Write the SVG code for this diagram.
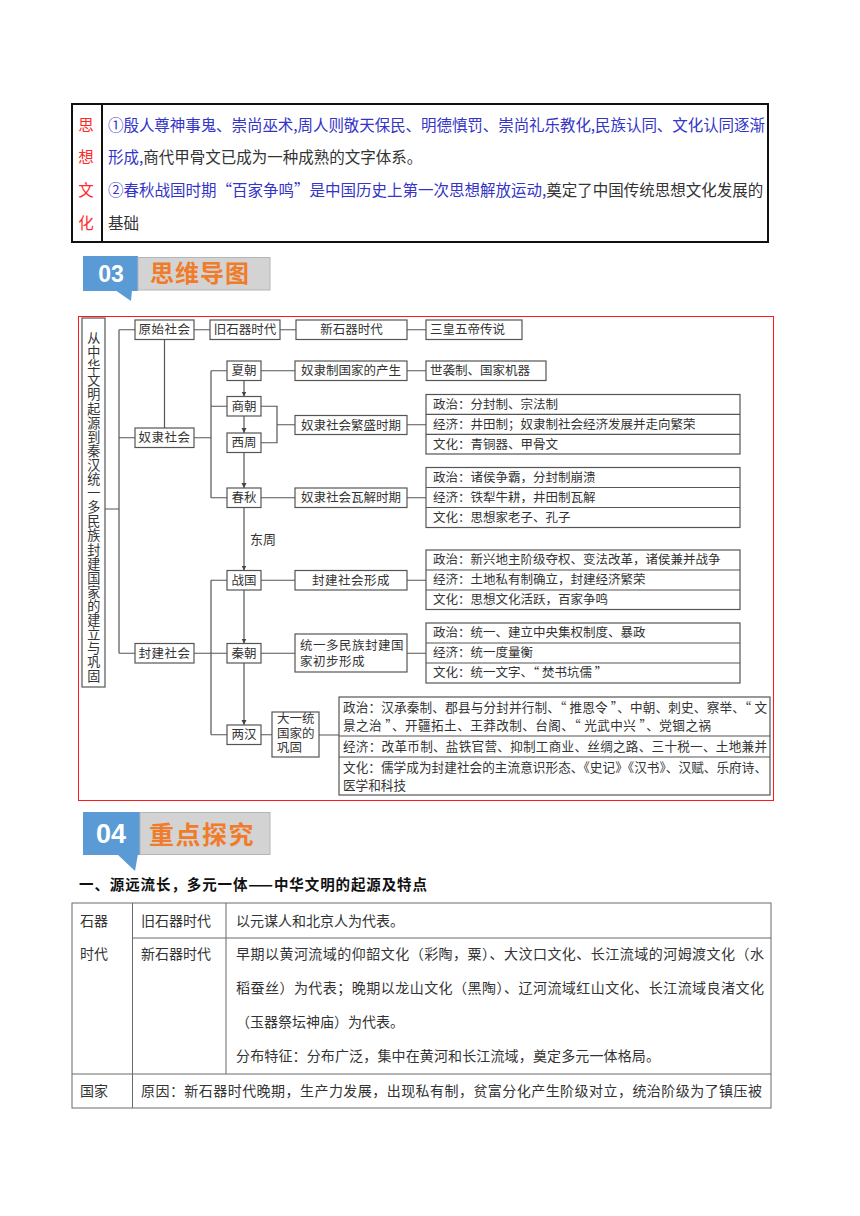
<svg xmlns="http://www.w3.org/2000/svg" width="860" height="1216" viewBox="0 0 860 1216">
<style>
text{font-family:"Noto Sans CJK SC","Liberation Sans",sans-serif;}
.blue{fill:#3434c8}
.red{fill:#ff2a2a}
.blk{fill:#333}
.box{fill:#fff;stroke:#555;stroke-width:1.2}
.ln{fill:none;stroke:#555;stroke-width:1.2}
.t{font-size:12.5px;fill:#333}
.tc{font-size:12.5px;fill:#333;text-anchor:middle}
.ml{font-family:"Liberation Sans","Noto Sans CJK SC",sans-serif;font-size:12.5px;fill:#333}
.t5{font-size:12.6px;fill:#333}
.bt{font-size:14px;fill:#333}
.tl{stroke:#6a6a6a;stroke-width:1;fill:none}
.hdnum{font-family:"Liberation Sans",sans-serif;font-weight:bold;fill:#fff;text-anchor:middle}
.hdtxt{font-weight:bold;fill:#f07c2a}
.vt{writing-mode:vertical-rl;font-size:13.1px;letter-spacing:1px;fill:#333}
</style>
<defs>
<marker id="ar" markerWidth="6" markerHeight="6" refX="5" refY="3" orient="auto" markerUnits="userSpaceOnUse">
<path d="M0,0.5 L5,3 L0,5.5 z" fill="#444"/>
</marker>
</defs>
<rect width="860" height="1216" fill="#fff"/>

<!-- top table -->
<g id="top-table">
<rect x="72" y="104" width="696" height="138" fill="none" stroke="#111" stroke-width="2"/>
<line x1="102" y1="104" x2="102" y2="242" stroke="#111" stroke-width="2"/>
<g font-size="15.5" class="red" text-anchor="middle">
<text x="86" y="130.5" class="red">思</text>
<text x="86" y="163" class="red">想</text>
<text x="86" y="196" class="red">文</text>
<text x="86" y="228.5" class="red">化</text>
</g>
<text x="108" y="130.5" font-size="15.5" class="blue" textLength="657" lengthAdjust="spacing">①殷人尊神事鬼、崇尚巫术,周人则敬天保民、明德慎罚、崇尚礼乐教化,民族认同、文化认同逐渐</text>
<text x="108" y="163" font-size="15.5"><tspan class="blue">形成,</tspan><tspan class="blk">商代甲骨文已成为一种成熟的文字体系。</tspan></text>
<text x="108" y="196" font-size="15.5"><tspan class="blue">②春秋战国时期“百家争鸣”是中国历史上第一次思想解放运动,</tspan><tspan class="blk">奠定了中国传统思想文化发展的</tspan></text>
<text x="108" y="228.5" font-size="15.5" class="blk">基础</text>
</g>

<!-- header 03 -->
<g id="header-03">
<polygon points="115,290 131,301 132,290" fill="#5b9bd5"/>
<rect x="83" y="256" width="55" height="35" fill="#5b9bd5"/>
<rect x="138" y="257.5" width="132" height="32.5" fill="#d3d3d3" stroke="#b5b5b5"/>
<text x="111" y="282" font-size="23" class="hdnum">03</text>
<text x="150" y="282" font-size="24" class="hdtxt" letter-spacing="1">思维导图</text>
</g>

<!-- mind map frame -->
<rect x="78.5" y="316.5" width="695" height="484" fill="none" stroke="#ff1a1a" stroke-width="1"/>

<g id="connectors">
<path class="ln" d="M105,509 H119 M119,329.75 V653.25 M119,329.75 H135 M119,437.75 H135 M119,653.25 H135"/>
<path class="ln" d="M194,329.75 H210 M280,329.75 H296 M407,329.75 H426 M164.5,339.5 V428"/>
<path class="ln" d="M194,437.75 H211 M211,370.75 V497.75 M211,370.75 H227 M211,406.25 H227 M211,497.75 H227"/>
<path class="ln" d="M211,580.25 V734.75 M211,580.25 H227 M211,734.75 H227 M194,653.25 H227"/>
<path class="ln" d="M261,370.75 H295 M407,370.75 H426"/>
<path class="ln" d="M261,406.25 H277 V442.75 H261 M277,424.75 H295 M407,424.75 H426"/>
<path class="ln" d="M261,497.75 H295 M407,497.75 H426"/>
<path class="ln" d="M261,580.25 H295 M407,580.25 H426"/>
<path class="ln" d="M261,653.25 H295 M407,653.25 H426"/>
<path class="ln" d="M261,734.75 H272 M319,735 H339"/>
<line class="ln" x1="244" y1="380.5" x2="244" y2="396.5" marker-end="url(#ar)"/>
<line class="ln" x1="244" y1="416" x2="244" y2="433" marker-end="url(#ar)"/>
<line class="ln" x1="244" y1="452.5" x2="244" y2="488" marker-end="url(#ar)"/>
<line class="ln" x1="244" y1="507.5" x2="244" y2="570.5" marker-end="url(#ar)"/>
<line class="ln" x1="244" y1="590" x2="244" y2="643.5" marker-end="url(#ar)"/>
<line class="ln" x1="244" y1="663" x2="244" y2="725" marker-end="url(#ar)"/>
<text x="250" y="543.5" font-size="13" fill="#333">东周</text>
</g>

<g id="n-title">
<rect class="box" x="82" y="318" width="23" height="369"/>
<text class="vt" x="93.7" y="331.5">从中华文明起源到秦汉统一多民族封建国家的建立与巩固</text>
</g>

<g id="n-yuanshi"><rect class="box" x="135" y="320" width="59" height="19.5"/><text class="tc" x="164.5" y="334" letter-spacing="0.5">原始社会</text></g>
<g id="n-jiushiqi"><rect class="box" x="210" y="320" width="70" height="19.5"/><text class="tc" x="245" y="334">旧石器时代</text></g>
<g id="n-xinshiqi"><rect class="box" x="296" y="320" width="111" height="19.5"/><text class="tc" x="351.5" y="334">新石器时代</text></g>
<g id="n-sanhuang"><rect class="box" x="426" y="320" width="96" height="19.5"/><text class="t" x="430" y="334">三皇五帝传说</text></g>

<g id="n-nuli"><rect class="box" x="135" y="428" width="59" height="19.5"/><text class="tc" x="164.5" y="442.2" letter-spacing="0.5">奴隶社会</text></g>
<g id="n-xia"><rect class="box" x="227" y="361" width="34" height="19.5"/><text class="tc" x="244" y="375">夏朝</text></g>
<g id="n-shang"><rect class="box" x="227" y="396.5" width="34" height="19.5"/><text class="tc" x="244" y="410.5">商朝</text></g>
<g id="n-xizhou"><rect class="box" x="227" y="433" width="34" height="19.5"/><text class="tc" x="244" y="447">西周</text></g>
<g id="n-chunqiu"><rect class="box" x="227" y="488" width="34" height="19.5"/><text class="tc" x="244" y="502">春秋</text></g>
<g id="n-zhanguo"><rect class="box" x="227" y="570.5" width="34" height="19.5"/><text class="tc" x="244" y="584.5">战国</text></g>
<g id="n-qin"><rect class="box" x="227" y="643.5" width="34" height="19.5"/><text class="tc" x="244" y="657.5">秦朝</text></g>
<g id="n-lianghan"><rect class="box" x="227" y="725" width="34" height="19.5"/><text class="tc" x="244" y="739">两汉</text></g>
<g id="n-fengjian"><rect class="box" x="135" y="643.5" width="59" height="19.5"/><text class="tc" x="164.5" y="657.5" letter-spacing="0.5">封建社会</text></g>

<g id="n-chansheng"><rect class="box" x="295" y="361" width="112" height="19.5"/><text class="tc" x="351" y="375">奴隶制国家的产生</text></g>
<g id="n-shixi"><rect class="box" x="426" y="361" width="120" height="19.5"/><text class="t" x="430" y="375">世袭制、国家机器</text></g>

<g id="n-fansheng"><rect class="box" x="295" y="415.5" width="112" height="19"/><text class="tc" x="351" y="429.5">奴隶社会繁盛时期</text></g>
<g id="n-tab1"><rect class="box" x="426" y="394.5" width="314" height="59.5"/><path class="ln" d="M426,414.3 H740 M426,434.3 H740"/>
<text class="t" x="433" y="408.8">政治：分封制、宗法制</text>
<text class="t" x="433" y="428.7">经济：井田制；奴隶制社会经济发展并走向繁荣</text>
<text class="t" x="433" y="448.5">文化：青铜器、甲骨文</text></g>

<g id="n-wajie"><rect class="box" x="295" y="488" width="112" height="19.5"/><text class="tc" x="351" y="502">奴隶社会瓦解时期</text></g>
<g id="n-tab2"><rect class="box" x="426" y="467.5" width="314" height="60"/><path class="ln" d="M426,487.5 H740 M426,507.5 H740"/>
<text class="t" x="433" y="481.9">政治：诸侯争霸，分封制崩溃</text>
<text class="t" x="433" y="501.9">经济：铁犁牛耕，井田制瓦解</text>
<text class="t" x="433" y="521.9">文化：思想家老子、孔子</text></g>

<g id="n-xingcheng"><rect class="box" x="295" y="570.5" width="112" height="19.5"/><text class="tc" x="351" y="584.5" letter-spacing="0.5">封建社会形成</text></g>
<g id="n-tab3"><rect class="box" x="426" y="550" width="314" height="59.5"/><path class="ln" d="M426,570 H740 M426,590 H740"/>
<text class="t" x="433" y="564.4">政治：新兴地主阶级夺权、变法改革，诸侯兼并战争</text>
<text class="t" x="433" y="584.4">经济：土地私有制确立，封建经济繁荣</text>
<text class="t" x="433" y="604">文化：思想文化活跃，百家争鸣</text></g>

<g id="n-tongyi"><rect class="box" x="295" y="634" width="112" height="38"/>
<text class="ml" x="300" y="649.5" letter-spacing="0.5">统一多民族封建国</text>
<text class="ml" x="300" y="665.5" letter-spacing="0.5">家初步形成</text></g>
<g id="n-tab4"><rect class="box" x="426" y="623" width="314" height="60"/><path class="ln" d="M426,643 H740 M426,663 H740"/>
<text class="t" x="433" y="637.4">政治：统一、建立中央集权制度、暴政</text>
<text class="t" x="433" y="657.4">经济：统一度量衡</text>
<text class="t" x="433" y="677.4">文化：统一文字、“ 焚书坑儒 ”</text></g>

<g id="n-gonggu"><rect class="box" x="272" y="712" width="47" height="45"/>
<text class="ml" x="277" y="723">大一统</text>
<text class="ml" x="277" y="737.5">国家的</text>
<text class="ml" x="277" y="752">巩固</text></g>
<g id="n-tab5"><rect class="box" x="339" y="697" width="431" height="98"/><path class="ln" d="M339,736 H770 M339,757 H770"/>
<text class="t5" x="343" y="711.5" textLength="424" lengthAdjust="spacing">政治：汉承秦制、郡县与分封并行制、“ 推恩令 ”、中朝、刺史、察举、“ 文</text>
<text class="t5" x="343" y="729.5" textLength="368" lengthAdjust="spacing">景之治 ”、开疆拓土、王莽改制、台阁、“ 光武中兴 ”、党锢之祸</text>
<text class="t5" x="343" y="751" textLength="424" lengthAdjust="spacing">经济：改革币制、盐铁官营、抑制工商业、丝绸之路、三十税一、土地兼并</text>
<text class="t5" x="343" y="772" textLength="424" lengthAdjust="spacing">文化：儒学成为封建社会的主流意识形态、《史记》《汉书》、汉赋、乐府诗、</text>
<text class="t5" x="343" y="790">医学和科技</text></g>

<!-- header 04 -->
<g id="header-04">
<polygon points="117,854 135,871 138,854" fill="#5b9bd5"/>
<rect x="83" y="812" width="57" height="43" fill="#5b9bd5"/>
<rect x="140" y="812.5" width="130" height="42" fill="#d3d3d3" stroke="#b5b5b5"/>
<text x="111" y="843" font-size="27" class="hdnum">04</text>
<text x="149" y="844" font-size="25" class="hdtxt" letter-spacing="1.5">重点探究</text>
</g>

<text x="79" y="890" font-size="14.5" font-weight="bold" fill="#111" textLength="348" lengthAdjust="spacing">一、源远流长，多元一体——中华文明的起源及特点</text>

<!-- bottom table -->
<g id="bottom-table">
<rect class="tl" x="72" y="903" width="699" height="205"/>
<line class="tl" x1="132.5" y1="903" x2="132.5" y2="1108"/>
<line class="tl" x1="226" y1="903" x2="226" y2="1074" stroke-width="1.3"/>
<line class="tl" x1="132.5" y1="938" x2="771" y2="938"/>
<line class="tl" x1="72" y1="1074" x2="771" y2="1074"/>
<text class="bt" x="80" y="926">石器</text>
<text class="bt" x="80" y="959">时代</text>
<text class="bt" x="141" y="926">旧石器时代</text>
<text class="bt" x="236" y="926">以元谋人和北京人为代表。</text>
<text class="bt" x="141" y="959">新石器时代</text>
<text class="bt" x="236" y="959" textLength="528" lengthAdjust="spacing">早期以黄河流域的仰韶文化（彩陶，粟）、大汶口文化、长江流域的河姆渡文化（水</text>
<text class="bt" x="236" y="993" textLength="528" lengthAdjust="spacing">稻蚕丝）为代表；晚期以龙山文化（黑陶）、辽河流域红山文化、长江流域良渚文化</text>
<text class="bt" x="236" y="1027">（玉器祭坛神庙）为代表。</text>
<text class="bt" x="236" y="1061" textLength="424" lengthAdjust="spacing">分布特征：分布广泛，集中在黄河和长江流域，奠定多元一体格局。</text>
<text class="bt" x="80" y="1096">国家</text>
<text class="bt" x="141" y="1096" textLength="621" lengthAdjust="spacing">原因：新石器时代晚期，生产力发展，出现私有制，贫富分化产生阶级对立，统治阶级为了镇压被</text>
</g>
</svg>
